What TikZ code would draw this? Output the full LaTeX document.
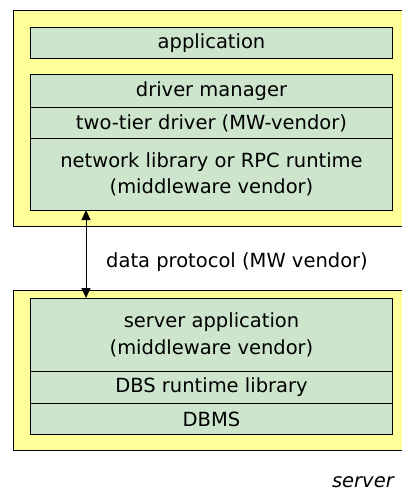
\documentclass[tikz,border=0pt]{standalone}
\usepackage{fontspec}
\setmainfont{DejaVu Sans}
\usetikzlibrary{arrows.meta}
\definecolor{ylw}{HTML}{FFFF99}
\definecolor{grn}{HTML}{CCE5CC}
\begin{document}
\begin{tikzpicture}[x=1pt,y=-1pt,
  outer/.style={draw=black,fill=ylw,line width=1pt},
  layer/.style={draw=black,fill=grn,line width=1pt,minimum width=362,inner sep=0pt,anchor=north west},
  lbl/.style={font=\fontsize{19.5}{26.5}\selectfont,align=center,text=black,inner sep=0pt},
  conn/.style={line width=1pt,{Triangle[width=9pt,length=10pt]}-{Triangle[width=9pt,length=10pt]}}]
\useasboundingbox (0,0) rectangle (402,491);
% client box
\draw[outer] (13,10) rectangle (410,226);
\node[layer,minimum height=31] (app) at (30,27) {};
\node[lbl] at (app.center) {application};
\node[layer,minimum height=33] (dm) at (30,74) {};
\node[lbl] at (dm.center) {driver manager};
\node[layer,minimum height=31] (ttd) at (30,107) {};
\node[lbl] at (ttd.center) {two-tier driver (MW-vendor)};
\node[layer,minimum height=72] (net) at (30,138) {};
\node[lbl] at (net.center) {network library or RPC runtime\\(middleware vendor)};
% server box
\draw[outer] (13,290) rectangle (410,450);
\node[layer,minimum height=73] (sapp) at (30,298) {};
\node[lbl] at (sapp.center) {server application\\(middleware vendor)};
\node[layer,minimum height=32] (dbs) at (30,371) {};
\node[lbl] at (dbs.center) {DBS runtime library};
\node[layer,minimum height=31] (dbms) at (30,403) {};
\node[lbl] at (dbms.center) {DBMS};
% connector
\coordinate (a1) at (86,210);
\coordinate (a2) at (86,298);
\draw[conn] (a1) -- (a2);
\node[lbl] (dp) at (237,262) {data protocol (MW vendor)};
\node[lbl,font=\fontsize{19.5}{26.5}\selectfont\itshape,anchor=base east] (srv) at (394,487) {server};
\end{tikzpicture}
\end{document}
